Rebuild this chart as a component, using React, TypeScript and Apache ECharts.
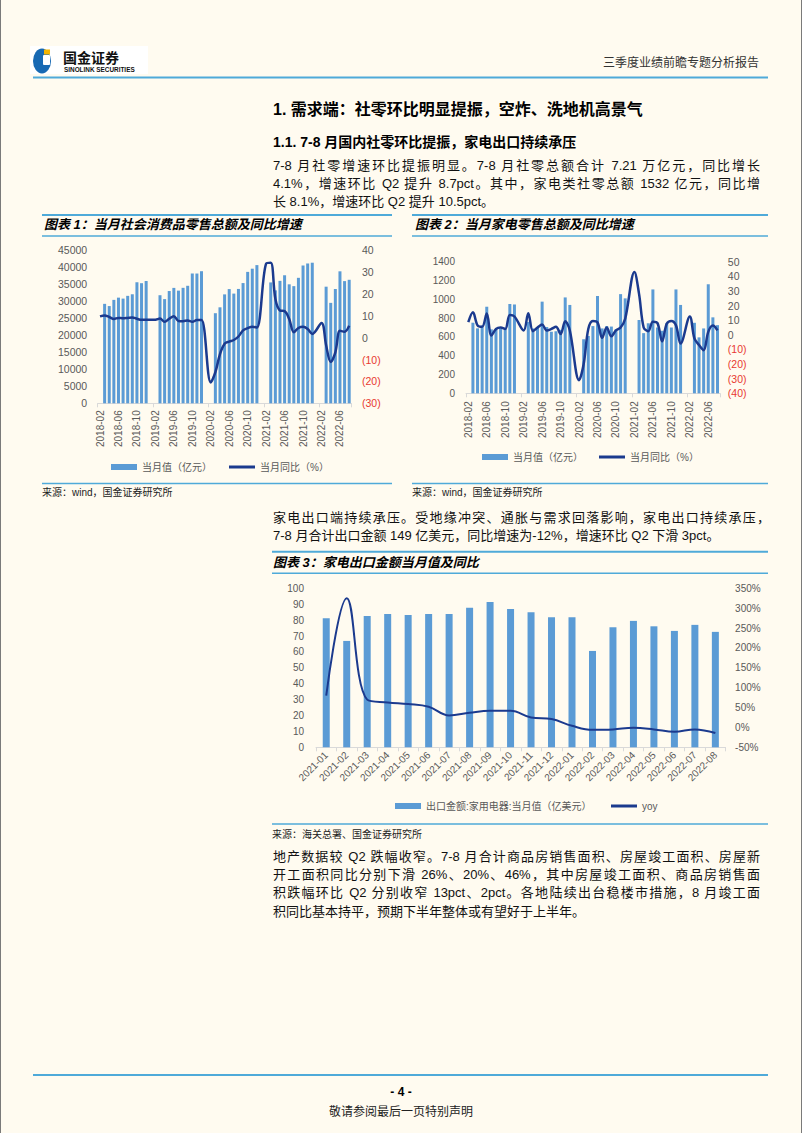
import React, { useEffect, useRef } from 'react';
import * as echarts from 'echarts';

// ---------- data ----------
// monthly categories 2018-02 .. 2022-08 (Jan has no separate release)
const monthCategories: string[] = [];
for (let y = 2018; y <= 2022; y++) {
  for (let m = 1; m <= 12; m++) {
    if (y === 2018 && m < 2) continue;
    if (y === 2022 && m > 8) continue;
    monthCategories.push(`${y}-${String(m).padStart(2, '0')}`);
  }
}

// Chart 1: 社会消费品零售总额 当月值（亿元）
const retailValue = [
  null, 29194, 28542, 30359, 31017, 30734, 31542, 32005, 35534, 35260, 35893,
  null, null, 31726, 30586, 32956, 33878, 33073, 33896, 34495, 38104, 38094, 38777,
  null, null, 26450, 28178, 31973, 33526, 32203, 33571, 35295, 38576, 39514, 40566,
  null, null, 35484, 33153, 35945, 37586, 34925, 34395, 36833, 40454, 41043, 41269,
  null, null, 34233, 29483, 33547, 38742, 35870, 36258,
];
// Chart 1: 当月同比（%）
const retailYoy = [
  9.7, 10.1, 9.4, 8.5, 9.0, 8.8, 9.0, 9.2, 8.6, 8.1, 8.2,
  null, 8.2, 8.7, 7.2, 8.6, 9.8, 7.6, 7.5, 7.8, 7.2, 8.0, 8.0,
  null, -20.5, -15.8, -7.5, -2.8, -1.8, -1.1, 0.5, 3.3, 4.3, 5.0, 4.6,
  null, 33.8, 34.2, 17.7, 12.4, 12.1, 8.5, 2.5, 4.4, 4.9, 3.9, 1.7,
  null, 6.7, -3.5, -11.1, -6.7, 3.1, 2.7, 5.4,
];

// Chart 2: 家电零售 当月值（亿元）
const applianceValue = [
  null, 751, 691, 720, 921, 680, 680, 690, 690, 950, 945,
  null, null, 760, 690, 700, 975, 705, 655, 660, 675, 1020, 940,
  null, null, 575, 610, 715, 1035, 690, 715, 710, 680, 1055, 1010,
  null, null, 780, 640, 745, 1105, 700, 665, 745, 700, 1105, 940,
  null, null, 750, 595, 690, 1160, 808, 725,
];
// Chart 2: 当月同比（%）
const applianceYoy = [
  8.6, 15.4, 6.5, 5.5, 14.5, -0.5, 4.0, 5.0, 4.0, 13.5, 12.5,
  null, 3.0, 14.7, 2.5, 5.0, 7.0, 3.0, 4.0, 5.5, 0.5, 9.3, 3.0,
  null, -31.0, -20.0, 4.0, 9.5, 8.5, -2.0, 5.0, -1.0, 3.0, 5.0, 11.0,
  null, 43.0, 28.0, 5.0, 2.5, 9.0, 8.0, -4.5, 7.5, 9.5, 6.5, -6.0,
  null, 12.5, -2.5, -7.0, -10.5, 2.0, 6.3, 3.0,
];

// Chart 3: 家电出口
const exportMonths = [
  '2021-01', '2021-02', '2021-03', '2021-04', '2021-05', '2021-06', '2021-07', '2021-08', '2021-09', '2021-10',
  '2021-11', '2021-12', '2022-01', '2022-02', '2022-03', '2022-04', '2022-05', '2022-06', '2022-07', '2022-08',
];
const exportValue = [
  81.1, 66.9, 82.6, 83.9, 83.2, 83.9, 83.9, 87.8, 91.4, 87.0,
  84.9, 81.8, 81.8, 60.6, 75.5, 79.5, 76.1, 73.2, 77.0, 72.6,
];
const exportYoy = [
  80, 325, 70, 63, 59, 52, 30, 37, 42, 42,
  25, 21, 4, -6, -5, -1, -5, -11, -5, -14,
];

// ---------- texts ----------
const headerRight = '三季度业绩前瞻专题分析报告';
const heading1 = '1. 需求端：社零环比明显提振，空炸、洗地机高景气';
const heading2 = '1.1. 7-8 月国内社零环比提振，家电出口持续承压';
const para1 = [
  '7-8 月社零增速环比提振明显。7-8 月社零总额合计 7.21 万亿元，同比增长',
  '4.1%，增速环比 Q2 提升 8.7pct。其中，家电类社零总额 1532 亿元，同比增',
  '长 8.1%，增速环比 Q2 提升 10.5pct。',
];
const para2 = [
  '家电出口端持续承压。受地缘冲突、通胀与需求回落影响，家电出口持续承压，',
  '7-8 月合计出口金额 149 亿美元，同比增速为-12%，增速环比 Q2 下滑 3pct。',
];
const para3 = [
  '地产数据较 Q2 跌幅收窄。7-8 月合计商品房销售面积、房屋竣工面积、房屋新',
  '开工面积同比分别下滑 26%、20%、46%，其中房屋竣工面积、商品房销售面',
  '积跌幅环比 Q2 分别收窄 13pct、2pct。各地陆续出台稳楼市措施，8 月竣工面',
  '积同比基本持平，预期下半年整体或有望好于上半年。',
];
const title1 = '图表 1：当月社会消费品零售总额及同比增速';
const title2 = '图表 2：当月家电零售总额及同比增速';
const title3 = '图表 3：家电出口金额当月值及同比';
const source12 = '来源：wind，国金证券研究所';
const source3 = '来源：海关总署、国金证券研究所';
const legendValue = '当月值（亿元）';
const legendYoy = '当月同比（%）';
const legendExport = '出口金额:家用电器:当月值（亿美元）';
const legendExportYoy = 'yoy';

// ---------- styles ----------
const FONT = "'Liberation Sans', 'Noto Sans CJK SC', Arial, sans-serif";
const BAR = '#5B9BD5';
const LINE = '#1B3A8E';
const LABEL = '#595959';
const NEG = '#E8382F';
const RULE = '#4FAAD9';
const BG = '#FFFBF0';

const plainFmt = (v: number) => String(v);
const negFmt = (v: number) => (v < 0 ? `{neg|(${-v})}` : `{pos|${v}}`);
const negRich = (size: number) => ({
  neg: { color: NEG, fontSize: size, fontFamily: FONT },
  pos: { color: LABEL, fontSize: size, fontFamily: FONT },
});

function buildOption() {
  const xBase = (grid: number, data: string[], extra: any) => ({
    type: 'category',
    gridIndex: grid,
    data,
    axisLine: { show: true, lineStyle: { color: '#D9D9D9', width: 1 } },
    splitLine: { show: false },
    ...extra,
  });
  const yBase = (grid: number, min: number, max: number, interval: number, pos: string, label: any) => ({
    type: 'value',
    gridIndex: grid,
    min,
    max,
    interval,
    position: pos,
    axisLine: { show: false },
    axisTick: { show: false },
    splitLine: { show: false },
    axisLabel: { color: LABEL, fontFamily: FONT, margin: 10, ...label },
  });
  const legendBase = (name: string, left: number, top: number, h: number) => ({
    data: [{ name, icon: 'rect' }],
    left,
    top,
    padding: 0,
    itemWidth: 26,
    itemHeight: h,
    selectedMode: false,
    textStyle: { fontSize: 10, color: LABEL, fontFamily: FONT, lineHeight: 14 },
  });

  return {
    animation: false,
    textStyle: { fontFamily: FONT },
    grid: [
      { left: 97.7, top: 250, width: 253.8, height: 153.3 },
      { left: 466, top: 261.7, width: 253.8, height: 131.6 },
      { left: 316, top: 588.3, width: 409.6, height: 159 },
    ],
    xAxis: [
      xBase(0, monthCategories, {
        axisTick: { show: true, interval: 11, length: 4, lineStyle: { color: '#D9D9D9' } },
        axisLabel: { interval: 3, rotate: 90, fontSize: 10, color: LABEL, fontFamily: FONT, margin: 7 },
      }),
      xBase(1, monthCategories, {
        axisTick: { show: true, interval: 11, length: 4, lineStyle: { color: '#D9D9D9' } },
        axisLabel: { interval: 3, rotate: 90, fontSize: 10, color: LABEL, fontFamily: FONT, margin: 8 },
      }),
      xBase(2, exportMonths, {
        axisTick: { show: true, interval: 0, length: 4, lineStyle: { color: '#D9D9D9' } },
        axisLabel: { interval: 0, rotate: 45, fontSize: 10, color: LABEL, fontFamily: FONT, margin: 6 },
      }),
    ],
    yAxis: [
      yBase(0, 0, 45000, 5000, 'left', { fontSize: 10.5, margin: 10.5, formatter: plainFmt }),
      yBase(0, -30, 40, 10, 'right', { formatter: negFmt, rich: negRich(10.5), margin: 10.5 }),
      yBase(1, 0, 1400, 200, 'left', { fontSize: 10, margin: 11, formatter: plainFmt }),
      yBase(1, -40, 50, 10, 'right', { formatter: negFmt, rich: negRich(10.5), margin: 8 }),
      yBase(2, 0, 100, 10, 'left', { fontSize: 10, margin: 12, formatter: plainFmt }),
      yBase(2, -50, 350, 50, 'right', { fontSize: 10, margin: 9.5, formatter: '{value}%' }),
    ],
    legend: [
      legendBase(legendValue, 111, 460, 6),
      legendBase(legendYoy, 229, 460, 3),
      legendBase(legendValue, 482, 450, 6),
      legendBase(legendYoy, 599, 450, 3),
      legendBase(legendExport, 395, 799, 6),
      legendBase(legendExportYoy, 611, 799, 3),
    ],
    series: [
      { type: 'bar', name: legendValue, xAxisIndex: 0, yAxisIndex: 0, data: retailValue, barWidth: 3, itemStyle: { color: BAR } },
      {
        type: 'line', name: legendYoy, xAxisIndex: 0, yAxisIndex: 1, data: retailYoy, smooth: 0.35, connectNulls: true,
        showSymbol: false, symbol: 'none', lineStyle: { width: 2.5, color: LINE }, itemStyle: { color: LINE },
      },
      { type: 'bar', name: legendValue, xAxisIndex: 1, yAxisIndex: 2, data: applianceValue, barWidth: 3, itemStyle: { color: BAR } },
      {
        type: 'line', name: legendYoy, xAxisIndex: 1, yAxisIndex: 3, data: applianceYoy, smooth: 0.35, connectNulls: true,
        showSymbol: false, symbol: 'none', lineStyle: { width: 2.5, color: LINE }, itemStyle: { color: LINE },
      },
      { type: 'bar', name: legendExport, xAxisIndex: 2, yAxisIndex: 4, data: exportValue, barWidth: 7, itemStyle: { color: BAR } },
      {
        type: 'line', name: legendExportYoy, xAxisIndex: 2, yAxisIndex: 5, data: exportYoy, smooth: 0.4,
        showSymbol: false, symbol: 'none', lineStyle: { width: 2, color: LINE }, itemStyle: { color: LINE },
      },
    ],
  };
}

type TProps = {
  x: number; cy: number; w?: number; size: number; bold?: boolean; italic?: boolean;
  justify?: boolean; align?: 'left' | 'center' | 'right'; color?: string; children: React.ReactNode;
};
const T = ({ x, cy, w, size, bold, italic, justify, align, color, children }: TProps) => {
  const lh = Math.round(size * 1.5);
  return (
    <div
      style={{
        position: 'absolute',
        left: x,
        top: cy - lh / 2,
        width: w,
        height: lh,
        lineHeight: `${lh}px`,
        fontSize: size,
        fontFamily: FONT,
        fontWeight: bold ? 700 : 400,
        fontStyle: italic ? 'italic' : 'normal',
        color: color || '#111',
        textAlign: justify ? 'justify' : align || 'left',
        textAlignLast: justify ? 'justify' : (align || 'left'),
        whiteSpace: w ? 'normal' : 'nowrap',
      } as React.CSSProperties}
    >
      {children}
    </div>
  );
};

export default function App() {
  const ref = useRef<HTMLDivElement>(null);
  useEffect(() => {
    if (!ref.current) return;
    const chart = echarts.init(ref.current, undefined, { renderer: 'svg' });
    chart.setOption(buildOption() as any);
    return () => chart.dispose();
  }, []);

  const bodyX = 273;
  const bodyW = 487;

  return (
    <div style={{ position: 'absolute', left: 0, top: 0, width: 802, height: 1133, background: BG, overflow: 'hidden' }}>
      <svg width={802} height={1133} style={{ position: 'absolute', left: 0, top: 0 }}>
        <line x1={0.5} y1={0} x2={0.5} y2={1133} stroke="#7a7a7a" strokeWidth={1} />
        <line x1={801.5} y1={0} x2={801.5} y2={1133} stroke="#7a7a7a" strokeWidth={1} />
        {/* logo */}
        <rect x={30} y={46} width={118} height={28} fill="#ffffff" />
        <ellipse cx={42} cy={61} rx={9} ry={12.5} fill="#1769B3" />
        <rect x={43} y={55} width={7} height={10} rx={1} fill="#ffffff" />
        <rect x={44} y={49.5} width={6} height={5} fill="#F4B400" />
        <text x={63} y={63} fontSize={14} fontWeight="bold" fill="#111" fontFamily="'Noto Sans CJK SC'">国金证券</text>
        <text x={64} y={71.7} fontSize={6.4} fontWeight="bold" fill="#111" fontFamily="'Liberation Sans'">SINOLINK SECURITIES</text>
        {/* header / footer rules */}
        <line x1={33} y1={77.5} x2={768} y2={77.5} stroke={RULE} strokeWidth={2} />
        <line x1={33} y1={1075} x2={768} y2={1075} stroke={RULE} strokeWidth={2} />
        {/* chart 1 frame */}
        <line x1={42} y1={215} x2={392} y2={215} stroke={RULE} strokeWidth={2} />
        <line x1={42} y1={236} x2={392} y2={236} stroke={RULE} strokeWidth={1.5} />
        <line x1={42} y1={483.5} x2={392} y2={483.5} stroke={RULE} strokeWidth={1.5} />
        {/* chart 2 frame */}
        <line x1={412} y1={215} x2={768} y2={215} stroke={RULE} strokeWidth={2} />
        <line x1={412} y1={236} x2={768} y2={236} stroke={RULE} strokeWidth={1.5} />
        <line x1={412} y1={483.5} x2={768} y2={483.5} stroke={RULE} strokeWidth={1.5} />
        {/* chart 3 frame */}
        <line x1={272} y1={551.7} x2={768} y2={551.7} stroke={RULE} strokeWidth={2} />
        <line x1={272} y1={573.3} x2={768} y2={573.3} stroke={RULE} strokeWidth={1.5} />
        <line x1={272} y1={824} x2={768} y2={824} stroke={RULE} strokeWidth={1.5} />
      </svg>

      <div ref={ref} style={{ position: 'absolute', left: 0, top: 0, width: 802, height: 1133 }} />

      <T x={603} cy={63.3} size={12} color="#333">{headerRight}</T>

      <T x={bodyX} cy={110} size={16} bold color="#000">{heading1}</T>
      <T x={bodyX} cy={142} size={14} bold color="#000">{heading2}</T>
      {para1.map((s, i) => (
        <T key={'p1' + i} x={bodyX} cy={165.5 + i * 18.4} size={13} w={i < para1.length - 1 ? bodyW : undefined} justify={i < para1.length - 1}>{s}</T>
      ))}

      <T x={44} cy={225} size={13} bold italic color="#000">{title1}</T>
      <T x={415} cy={225} size={13} bold italic color="#000">{title2}</T>
      <T x={42} cy={492} size={10} color="#222">{source12}</T>
      <T x={412} cy={492} size={10} color="#222">{source12}</T>

      {para2.map((s, i) => (
        <T key={'p2' + i} x={bodyX} cy={518 + i * 18} size={13} w={i < para2.length - 1 ? 497 : undefined} justify={i < para2.length - 1}>{s}</T>
      ))}

      <T x={273} cy={562.5} size={13} bold italic color="#000">{title3}</T>
      <T x={272} cy={834} size={10} color="#222">{source3}</T>

      {para3.map((s, i) => (
        <T key={'p3' + i} x={bodyX} cy={857 + i * 18.2} size={13} w={i < para3.length - 1 ? bodyW : undefined} justify={i < para3.length - 1}>{s}</T>
      ))}

      <T x={301} cy={1092} w={200} size={12} bold align="center" color="#000">- 4 -</T>
      <T x={301} cy={1112} w={200} size={12} align="center" color="#222">敬请参阅最后一页特别声明</T>
    </div>
  );
}
